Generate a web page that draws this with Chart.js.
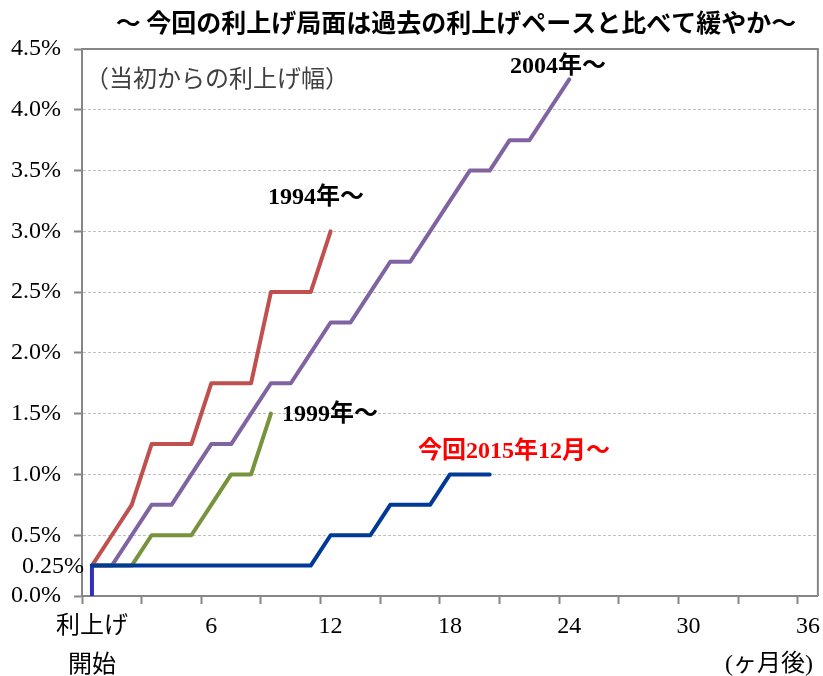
<!DOCTYPE html>
<html>
<head>
<meta charset="utf-8">
<script src="https://cdn.jsdelivr.net/npm/chart.js@4/dist/chart.umd.min.js"></script>
<style>
html,body{margin:0;padding:0;background:#fff;}
#wrap{width:823px;height:676px;position:relative;}
</style>
</head>
<body>
<div id="wrap"><canvas id="c" width="823" height="676"></canvas></div>
<script>
// Months after first hike
const months = [0,1,2,3,4,5,6,7,8,9,10,11,12,13,14,15,16,17,18,19,20,21,22,23,24];
// Cumulative hike (%) for each episode
const rate1994 = [0.25,0.5,0.75,1.25,1.25,1.25,1.75,1.75,1.75,2.5,2.5,2.5,3.0];
const rate1999 = [0.25,0.25,0.25,0.5,0.5,0.5,0.75,1.0,1.0,1.5];
const rate2004 = [0.25,0.25,0.5,0.75,0.75,1.0,1.25,1.25,1.5,1.75,1.75,2.0,2.25,2.25,2.5,2.75,2.75,3.0,3.25,3.5,3.5,3.75,3.75,4.0,4.25];
const rate2015 = [0.25,0.25,0.25,0.25,0.25,0.25,0.25,0.25,0.25,0.25,0.25,0.25,0.5,0.5,0.5,0.75,0.75,0.75,1.0,1.0,1.0];
// Initial step of the current episode (from 0 to first hike at month 0)
const startStepX = [0,0];
const startStepY = [0,0.25];
// Axis ticks
const xLabelMonths = [0,6,12,18,24,30,36];
const xLabelTexts = [['利上げ','開始'],'6','12','18','24','30','36'];
const yTickValues = [0,0.5,1.0,1.5,2.0,2.5,3.0,3.5,4.0,4.5];

const toXY = arr => arr.map((v,i)=>({x:months[i], y:v}));

const FONT_NUM = "'Liberation Serif', 'Noto Sans CJK JP', serif";
const FONT_JP = "'Noto Sans CJK JP', sans-serif";

const overlay = {
  id:'overlay',
  beforeDatasetsDraw(chart){
    const {ctx, chartArea:a} = chart;
    ctx.save();
    ctx.strokeStyle = '#868686';
    ctx.lineWidth = 2;
    ctx.beginPath();
    ctx.moveTo(a.left, a.top);
    ctx.lineTo(a.right, a.top);
    ctx.lineTo(a.right, a.bottom);
    ctx.stroke();
    ctx.restore();
  },
  afterDraw(chart){
    const {ctx} = chart;
    const ys = chart.scales.y;
    ctx.save();
    ctx.textBaseline = 'middle';
    // title
    ctx.fillStyle = '#000';
    ctx.textAlign = 'center';
    ctx.font = "bold 25px " + FONT_JP;
    ctx.fillText('～ 今回の利上げ局面は過去の利上げペースと比べて緩やか～', 456, 22);
    // unit note
    ctx.textAlign = 'left';
    ctx.fillStyle = '#404040';
    ctx.font = "24px " + FONT_JP;
    ctx.fillText('（当初からの利上げ幅）', 85, 78);
    // 0.25% label
    ctx.textAlign = 'right';
    ctx.fillStyle = '#000';
    ctx.font = "24px " + FONT_NUM;
    ctx.fillText('0.25%', 84, ys.getPixelForValue(0.25) + 1);
    // x unit
    ctx.font = "24px " + FONT_NUM;
    ctx.fillText('(ヶ月後)', 813, 665);
    // series labels
    ctx.textAlign = 'left';
    ctx.font = "bold 24px " + FONT_NUM;
    ctx.fillText('1994年～', 268, 198);
    ctx.fillText('1999年～', 282, 415);
    ctx.fillText('2004年～', 510, 67);
    ctx.fillStyle = '#FF0000';
    ctx.fillText('今回2015年12月～', 418, 452);
    ctx.restore();
  }
};

const lineDs = (label, data, color, order) => ({
  label, data, borderColor: color, backgroundColor: color,
  borderWidth: 4, pointRadius: 0, tension: 0, fill: false,
  borderCapStyle: 'round', borderJoinStyle: 'round', order
});

new Chart(document.getElementById('c'), {
  type: 'line',
  data: {
    datasets: [
      lineDs('2015', toXY(rate2015), '#003A96', 0),
      lineDs('start', startStepX.map((x,i)=>({x, y:startStepY[i]})), '#3030BC', 1),
      lineDs('1999', toXY(rate1999), '#77933C', 2),
      lineDs('2004', toXY(rate2004), '#8064A2', 3),
      lineDs('1994', toXY(rate1994), '#C0504D', 4)
    ]
  },
  options: {
    responsive: false,
    animation: false,
    devicePixelRatio: 1,
    layout: { padding: { top: 49, right: 5, left: 0, bottom: 0 } },
    plugins: { legend: { display: false }, tooltip: { enabled: false }, title: { display: false } },
    scales: {
      x: {
        type: 'linear',
        min: -0.5, max: 36.5,
        afterBuildTicks(scale){
          const t = [];
          for (let k = 0; k < 13; k++) t.push({value: -0.5 + 3*k, major:false});
          xLabelMonths.forEach(m => t.push({value: m, major:false}));
          t.sort((a,b)=>a.value-b.value);
          scale.ticks = t;
        },
        afterFit(scale){ scale.height = 80; },
        grid: {
          drawOnChartArea: false,
          drawTicks: true,
          tickLength: 8,
          tickWidth: 2,
          tickColor: ctx => (ctx.tick && xLabelMonths.includes(ctx.tick.value)) ? 'rgba(0,0,0,0)' : '#868686'
        },
        border: { display: true, color: '#868686', width: 2 },
        ticks: {
          autoSkip: false, maxRotation: 0, minRotation: 0,
          padding: 3,
          color: '#000',
          font: { family: FONT_NUM, size: 24, lineHeight: 1.63 },
          callback(value){
            const i = xLabelMonths.indexOf(value);
            return i >= 0 ? xLabelTexts[i] : '';
          }
        }
      },
      y: {
        type: 'linear',
        min: 0, max: 4.5,
        afterBuildTicks(scale){ scale.ticks = yTickValues.map(v=>({value:v})); },
        afterFit(scale){ scale.width = 82; },
        grid: {
          drawTicks: true,
          tickLength: 8,
          tickWidth: 2,
          tickColor: '#868686',
          lineWidth: 1,
          color: ctx => (ctx.tick && (ctx.tick.value === 0 || ctx.tick.value === 4.5)) ? 'rgba(0,0,0,0)' : '#C0C0C0'
        },
        border: { display: true, color: '#868686', width: 2, dash: [3,2] },
        ticks: {
          padding: 13,
          color: '#000',
          font: { family: FONT_NUM, size: 24 },
          callback(value){ return value.toFixed(1) + '%'; }
        }
      }
    }
  },
  plugins: [overlay]
});
</script>
</body>
</html>
